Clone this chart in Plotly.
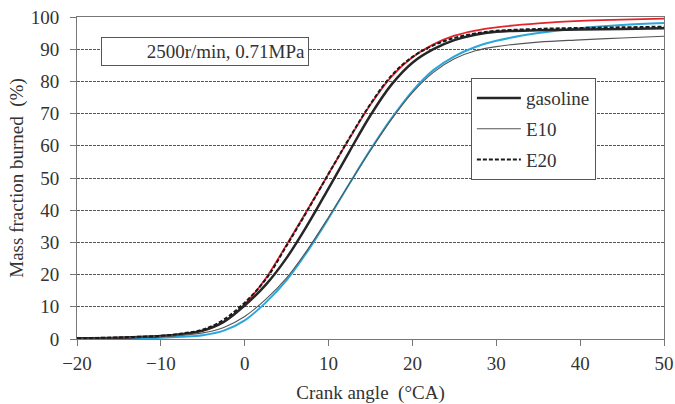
import plotly.graph_objects as go

crank_angle = [-20, -15, -10, -7.5, -5, -2.5, 0, 2.5, 5, 7.5, 10, 12.5, 15, 17.5, 20, 22.5, 25, 27.5, 30, 35, 40, 45, 50]

gasoline = [0.2, 0.4, 0.9, 1.5, 2.6, 5.3, 10.4, 16.8, 25.2, 35.5, 46.8, 58.3, 69.5, 79.0, 85.8, 90.0, 92.8, 94.5, 95.4, 95.9, 96.1, 96.3, 96.5]
e10 = [0.2, 0.4, 0.8, 1.2, 1.9, 3.6, 7.0, 12.3, 19.0, 27.8, 37.8, 48.3, 58.6, 68.2, 76.5, 82.8, 87.0, 89.5, 90.8, 92.2, 92.9, 93.5, 94.0]
e20 = [0.2, 0.5, 1.0, 1.7, 2.9, 6.0, 11.3, 18.5, 29.0, 40.0, 51.3, 62.5, 73.0, 81.8, 87.6, 91.2, 93.5, 94.9, 95.7, 96.3, 96.6, 96.8, 97.0]
red_curve = [0.2, 0.4, 0.9, 1.5, 2.6, 5.3, 10.8, 18.8, 29.3, 40.2, 51.3, 62.3, 72.8, 81.5, 87.5, 91.5, 94.2, 95.8, 96.8, 98.0, 98.8, 99.2, 99.5]
cyan_curve = [0.1, 0.2, 0.4, 0.7, 1.2, 2.6, 5.8, 11.3, 18.3, 27.3, 37.5, 48.3, 58.8, 68.5, 77.0, 83.5, 87.8, 90.7, 92.6, 95.0, 96.5, 97.5, 98.1]

y_ticks = [0, 10, 20, 30, 40, 50, 60, 70, 80, 90, 100]
x_ticks = [-20, -10, 0, 10, 20, 30, 40, 50]

FONT = "Liberation Serif"
TXT = "#333333"

fig = go.Figure()

spl = dict(shape="spline", smoothing=1.0)
fig.add_trace(go.Scatter(x=crank_angle, y=cyan_curve, mode="lines", showlegend=False,
                         line=dict(color="#2aa6dc", width=2, **spl)))
fig.add_trace(go.Scatter(x=crank_angle, y=red_curve, mode="lines", showlegend=False,
                         line=dict(color="#e3242b", width=1.8, **spl)))
fig.add_trace(go.Scatter(x=crank_angle, y=gasoline, mode="lines", name="gasoline", legendgroup="a",
                         line=dict(color="#262626", width=2.5, **spl)))
fig.add_trace(go.Scatter(x=crank_angle, y=e10, mode="lines", name="E10", legendgroup="b",
                         line=dict(color="#555555", width=1.1, **spl)))
fig.add_trace(go.Scatter(x=crank_angle, y=e20, mode="lines", name="E20", legendgroup="c",
                         line=dict(color="#1a1a1a", width=2, dash="4px,2px", **spl)))

fig.add_annotation(x=-4.7, y=89.4, xref="x", yref="y",
                   text="2500r/min, 0.71MPa", showarrow=False,
                   font=dict(family=FONT, size=19, color=TXT),
                   width=200, align="right", borderpad=3,
                   bordercolor="#555555", borderwidth=1, bgcolor="white")

fig.update_layout(
    width=675, height=404,
    margin=dict(l=77, r=11, t=17, b=65, autoexpand=False),
    paper_bgcolor="white", plot_bgcolor="white",
    font=dict(family=FONT, size=19, color=TXT),
    legend=dict(x=0.671, y=0.810, xanchor="left", yanchor="top",
                bordercolor="#555555", borderwidth=1, bgcolor="white",
                traceorder="grouped", tracegroupgap=3, itemwidth=44,
                font=dict(family=FONT, size=19, color=TXT)),
    xaxis=dict(range=[-20, 50], tickvals=x_ticks, ticks="outside", ticklen=6,
               tickcolor="#777777", showline=True, linecolor="#777777", linewidth=1,
               mirror=True, showgrid=False, zeroline=False, ticklabelstandoff=1,
               ticklabeloverflow="allow", automargin=False,
               title=dict(text="Crank angle\u00a0\u00a0(°CA)", standoff=20,
                          font=dict(family=FONT, size=19, color=TXT))),
    yaxis=dict(range=[0, 100], tickvals=y_ticks, ticks="outside", ticklen=6,
               tickcolor="#777777", showline=True, linecolor="#777777", linewidth=1,
               mirror=True, showgrid=True, gridcolor="#555555", gridwidth=1,
               griddash="3px,1px", zeroline=False, ticklabelstandoff=7,
               ticklabeloverflow="allow", automargin=False,
               title=dict(text="Mass fraction burned\u00a0\u00a0(%)", standoff=2,
                          font=dict(family=FONT, size=19, color=TXT))),
)

fig.write_html("out.html",
               config={"displayModeBar": False},
               post_script="document.body.style.margin='0px';document.body.style.overflow='hidden';")
